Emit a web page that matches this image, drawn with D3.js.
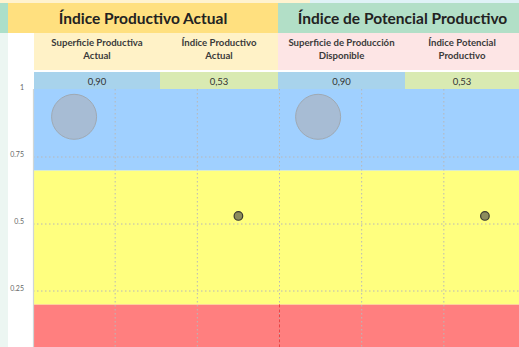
<!DOCTYPE html>
<html>
<head>
<meta charset="utf-8">
<script src="https://cdn.jsdelivr.net/npm/d3@7"></script>
<style>
  body { margin: 0; background: #fff; }
  svg { display: block; font-family: Lato, "Open Sans", sans-serif; }
</style>
</head>
<body>
<svg id="chart" width="519" height="347"></svg>
<script>
// header groups and columns
const groups = ["Índice Productivo Actual", "Índice de Potencial Productivo"];
const columns = [
  ["Superficie Productiva", "Actual"],
  ["Índice Productivo", "Actual"],
  ["Superficie de Producción", "Disponible"],
  ["Índice Potencial", "Productivo"]
];
const valueLabels = ["0,90", "0,53", "0,90", "0,53"];

// points
const pointX = [0.5, 2.5, 3.47, 5.5];
const pointY = [0.90, 0.53, 0.90, 0.53];
const pointKind = ["big", "small", "big", "small"];

// background bands
const bandFrom = [0, 0.2, 0.7];
const bandTo = [0.2, 0.7, 1];
const bandColor = ["#ff7f7f", "#ffff7f", "#a0d0ff"];

const yTicks = [0.25, 0.5, 0.75, 1];
const xGrid = [1, 2, 3, 4, 5];

const svg = d3.select("#chart");
const W = 519, H = 347;
const plot = { left: 33, top: 89 };

const x = d3.scaleLinear().domain([0, 6]).range([33, 526]);
const y = d3.scaleLinear().domain([0, 1]).range([358, 90]);

// left strip and top strip
svg.append("rect").attr("x", 0).attr("y", 0).attr("width", 8).attr("height", H).attr("fill", "#ecf6f2");
svg.append("rect").attr("x", 0).attr("y", 0).attr("width", 310).attr("height", 3).attr("fill", "#fff3cf");
svg.append("rect").attr("x", 310).attr("y", 0).attr("width", W - 310).attr("height", 3).attr("fill", "#dff2f6");
svg.append("rect").attr("x", 0).attr("y", 3).attr("width", 8).attr("height", 30).attr("fill", "#acdfc9");

// group headers
const groupX = [8, 278, 519];
const groupFill = ["#ffe07f", "#b2dfc7"];
groups.forEach((g, i) => {
  svg.append("rect")
    .attr("x", groupX[i]).attr("y", 3)
    .attr("width", groupX[i + 1] - groupX[i]).attr("height", 30)
    .attr("fill", groupFill[i]);
  svg.append("text")
    .attr("x", (groupX[i] + groupX[i + 1]) / 2 + (i === 1 ? 4 : 0))
    .attr("y", 24)
    .attr("text-anchor", "middle")
    .attr("font-size", 15.5)
    .attr("font-weight", "bold")
    .attr("fill", "#222")
    .text(g);
});

// sub headers
const colX = [34, 160, 278, 405, 519];
const subFill = ["#fff2c7", "#fff2c7", "#fde5e5", "#fde5e5"];
const valFill = ["#a8d3ec", "#d9eab2", "#a8d3ec", "#d9eab2"];
columns.forEach((c, i) => {
  const w = colX[i + 1] - colX[i];
  const cx = colX[i] + w / 2;
  svg.append("rect").attr("x", colX[i]).attr("y", 33).attr("width", w).attr("height", 37).attr("fill", subFill[i]);
  c.forEach((line, j) => {
    svg.append("text")
      .attr("x", cx).attr("y", 46 + j * 13)
      .attr("text-anchor", "middle")
      .attr("font-size", 9.6)
      .attr("font-weight", "bold")
      .attr("fill", "#3a3a3a")
      .text(line);
  });
  svg.append("rect").attr("x", colX[i]).attr("y", 72).attr("width", w).attr("height", 17).attr("fill", valFill[i]);
  svg.append("text")
    .attr("x", cx).attr("y", 84.5)
    .attr("text-anchor", "middle")
    .attr("font-size", 9.5)
    .attr("fill", "#333")
    .text(valueLabels[i]);
});

// plot area
const g = svg.append("g");
g.selectAll("rect.band")
  .data(bandFrom)
  .join("rect")
  .attr("class", "band")
  .attr("x", plot.left)
  .attr("y", (d, i) => y(bandTo[i]) - (i === 2 ? 1 : 0))
  .attr("width", W - plot.left)
  .attr("height", (d, i) => y(d) - y(bandTo[i]) + (i === 2 ? 1 : 0))
  .attr("fill", (d, i) => bandColor[i]);

// grid
g.selectAll("line.hgrid")
  .data(yTicks.filter(t => t < 1))
  .join("line")
  .attr("x1", plot.left).attr("x2", W)
  .attr("y1", d => y(d)).attr("y2", d => y(d))
  .attr("stroke", "#b8b8b8").attr("stroke-width", 1).attr("stroke-dasharray", "1.5,2.5");
g.selectAll("line.vgrid")
  .data(xGrid)
  .join("line")
  .attr("x1", d => x(d)).attr("x2", d => x(d))
  .attr("y1", plot.top).attr("y2", H)
  .attr("stroke", "#b8b8b8").attr("stroke-width", 1).attr("stroke-dasharray", "1.5,2.5");

// red divider in the red band
g.append("line")
  .attr("x1", x(3)).attr("x2", x(3))
  .attr("y1", y(0.2)).attr("y2", H)
  .attr("stroke", "#e84545").attr("stroke-width", 1).attr("stroke-dasharray", "3,2");

// y axis
const yAxis = d3.axisLeft(y).tickValues(yTicks).tickSize(0).tickPadding(9)
  .tickFormat(d => d === 1 ? "1" : String(d));
const ya = svg.append("g").attr("transform", `translate(${plot.left},0)`).call(yAxis);
ya.select(".domain").remove();
ya.selectAll("text").attr("font-size", 7).attr("fill", "#666").attr("font-family", "Lato, sans-serif").attr("dy", "-0.1em");
svg.append("line")
  .attr("x1", plot.left + 0.5).attr("x2", plot.left + 0.5)
  .attr("y1", plot.top).attr("y2", H)
  .attr("stroke", "#cfd6d6").attr("stroke-width", 1.2);

// points
g.selectAll("circle.pt")
  .data(pointX)
  .join("circle")
  .attr("cx", d => x(d))
  .attr("cy", (d, i) => y(pointY[i]))
  .attr("r", (d, i) => pointKind[i] === "big" ? 22.5 : 4.3)
  .attr("fill", (d, i) => pointKind[i] === "big" ? "#a7bcd4" : "#8c8c5c")
  .attr("stroke", (d, i) => pointKind[i] === "big" ? "#9fa9b3" : "#3a3a30")
  .attr("stroke-width", (d, i) => pointKind[i] === "big" ? 1 : 1.2);
</script>
</body>
</html>
